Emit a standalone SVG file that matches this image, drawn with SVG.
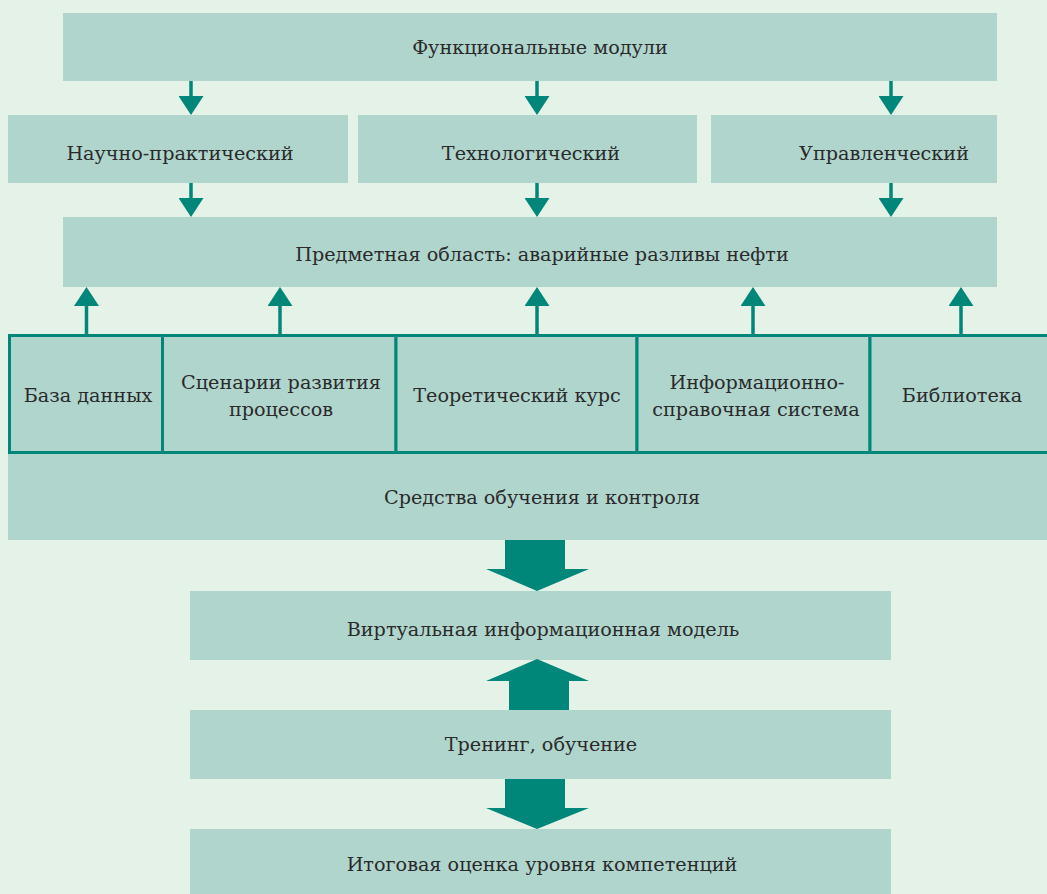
<svg xmlns="http://www.w3.org/2000/svg" width="1047" height="894" viewBox="0 0 1047 894">
<style>
.box{fill:#b0d5cd}
.cell{fill:#b0d5cd;stroke:#00877a;stroke-width:3}
.t{font-family:"DejaVu Serif","Liberation Serif",serif;font-size:19.2px;fill:#2a2a2a;text-anchor:middle}
.sh{stroke:#00877a;stroke-width:3.5;fill:none}
.hd{fill:#00877a}
</style>
<defs>
<marker id="ah" viewBox="0 0 19 25" refX="0" refY="12.5" markerWidth="19" markerHeight="25" markerUnits="userSpaceOnUse" orient="auto">
<path d="M0,0 L19,12.5 L0,25 Z" fill="#00877a"/>
</marker>
</defs>
<rect width="1047" height="894" fill="#e5f2e8"/>
<g id="func"><rect class="box" x="63" y="13" width="934" height="68"/><text class="t" x="540" y="54">Функциональные модули</text></g>
<g id="nauch"><rect class="box" x="8" y="115" width="340" height="68"/><text class="t" x="180" y="160">Научно-практический</text></g>
<g id="tech"><rect class="box" x="358" y="115" width="339" height="68"/><text class="t" x="531" y="160">Технологический</text></g>
<g id="uprav"><rect class="box" x="711" y="115" width="286" height="68"/><text class="t" x="884" y="160">Управленческий</text></g>
<g id="predmet"><rect class="box" x="63" y="217" width="934" height="70"/><text class="t" x="542" y="261">Предметная область: аварийные разливы нефти</text></g>
<g id="sredstva"><rect class="box" x="8" y="334" width="1039" height="206"/><text class="t" x="542" y="504">Средства обучения и контроля</text></g>
<g id="baza"><rect class="cell" x="9.5" y="335.5" width="153" height="117"/><text class="t" x="88" y="402">База данных</text></g>
<g id="scen"><rect class="cell" x="162.5" y="335.5" width="233.5" height="117"/><text class="t" x="281" y="389">Сценарии развития</text><text class="t" x="281" y="416">процессов</text></g>
<g id="teor"><rect class="cell" x="396" y="335.5" width="241" height="117"/><text class="t" x="517" y="402">Теоретический курс</text></g>
<g id="info"><rect class="cell" x="637" y="335.5" width="233" height="117"/><text class="t" x="757" y="389">Информационно-</text><text class="t" x="756" y="416">справочная система</text></g>
<g id="bibl"><rect class="cell" x="870" y="335.5" width="180" height="117"/><text class="t" x="962" y="402">Библиотека</text></g>
<g id="virt"><rect class="box" x="190" y="591" width="701" height="69"/><text class="t" x="543" y="636">Виртуальная информационная модель</text></g>
<g id="trening"><rect class="box" x="190" y="710" width="701" height="69"/><text class="t" x="541" y="751">Тренинг, обучение</text></g>
<g id="itog"><rect class="box" x="190" y="829" width="701" height="70"/><text class="t" x="542" y="871">Итоговая оценка уровня компетенций</text></g>
<g id="connectors">
<path class="sh" d="M191,81V96" marker-end="url(#ah)"/>
<path class="sh" d="M537,81V96" marker-end="url(#ah)"/>
<path class="sh" d="M891,81V96" marker-end="url(#ah)"/>
<path class="sh" d="M191,183V198" marker-end="url(#ah)"/>
<path class="sh" d="M537,183V198" marker-end="url(#ah)"/>
<path class="sh" d="M891,183V198" marker-end="url(#ah)"/>
<path class="sh" d="M86.5,334V306" marker-end="url(#ah)"/>
<path class="sh" d="M280,334V306" marker-end="url(#ah)"/>
<path class="sh" d="M537,334V306" marker-end="url(#ah)"/>
<path class="sh" d="M753,334V306" marker-end="url(#ah)"/>
<path class="sh" d="M961,334V306" marker-end="url(#ah)"/>
<polygon class="hd" points="505,540 565,540 565,569 589,569 537,591 486,569 505,569"/>
<polygon class="hd" points="537,659 589,681 569,681 569,710 509,710 509,681 486,681"/>
<polygon class="hd" points="505,779 565,779 565,808 589,808 537,829 486,808 505,808"/>
</g>
</svg>
